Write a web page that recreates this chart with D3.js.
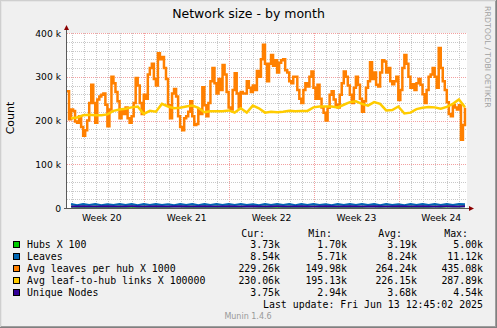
<!DOCTYPE html>
<html>
<head>
<meta charset="utf-8">
<script src="https://cdn.jsdelivr.net/npm/d3@7"></script>
<style>
  html, body { margin: 0; padding: 0; background: #f0f0f0; }
  svg { display: block; }
</style>
</head>
<body>
<svg id="chart" width="497" height="328"></svg>
<script>
// ---- data (values in thousands) ----
const titleText = "Network size - by month";
const yTickValues = [0, 100, 200, 300, 400];
const yTickLabels = ["0", "100 k", "200 k", "300 k", "400 k"];

const seriesNames = ["Hubs X 100", "Leaves", "Avg leaves per hub X 1000",
                     "Avg leaf-to-hub links X 100000", "Unique Nodes"];
const seriesColors = ["#00cc00", "#0066b3", "#ff8000", "#ffcc00", "#330099"];
const curVals = ["3.73k", "8.54k", "229.26k", "230.06k", "3.75k"];
const minVals = ["1.70k", "5.71k", "149.98k", "195.13k", "2.94k"];
const avgVals = ["3.19k", "8.24k", "264.24k", "226.15k", "3.68k"];
const maxVals = ["5.00k", "11.12k", "435.08k", "287.89k", "4.54k"];
const lastUpdate = "Last update: Fri Jun 13 12:45:02 2025";
const versionText = "Munin 1.4.6";
const watermark = "RRDTOOL / TOBI OETIKER";

// 4-hour samples
const avgLeavesPerHub = [267,
  203,225,222,198,195,210,185,165,178,200,
  240,282,240,195,248,255,259,262,236,187,
  225,300,285,265,244,205,225,215,230,205,
  195,210,240,297,280,240,215,259,250,305,
  320,330,295,280,354,340,345,320,295,235,
  205,262,272,255,210,185,178,205,210,220,
  244,210,190,192,225,215,276,235,210,240,
  290,320,285,262,295,270,327,305,265,230,
  225,270,308,262,230,265,262,262,290,275,
  265,280,270,313,300,340,373,330,290,
  330,350,325,338,310,332,338,340,315,
  310,290,285,300,300,270,250,240,270,285,
  278,300,312,275,250,282,250,230,218,200,
  229,259,267,248,236,230,259,285,312,300,
  280,259,240,275,300,282,250,220,244,275,
  290,333,295,310,282,278,310,338,335,310,
  320,290,283,290,300,247,270,320,350,330,
  300,275,283,270,285,295,282,260,240,270,
  300,305,320,300,275,366,320,290,270,242,
  215,210,235,230,225,235,156,190,229];

// 12-hour samples
const avgLinks = [205,207,212,213,212,212,214,222,225,227,
  230,232,215,222,220,238,232,228,229,232,
  234,229,219,221,221,221,223,218,228,218,
  234,228,218,220,219,220,222,221,222,222,
  230,232,232,232,230,236,242,244,238,234,
  242,238,223,224,232,216,218,226,229,231,
  230,227,231,238,248,230];

const leaves = [9.0,6.6,8.9,6.8,9.1,6.5,8.8,6.9,9.2,6.7,8.9,6.6,9.0,6.8,9.3,6.9,8.8,6.6,9.1,6.7,
  8.9,6.5,9.0,6.8,9.2,6.9,8.9,6.7,9.1,6.8,8.8,6.6,9.0,6.9,9.3,6.7,8.9,6.6,9.0,6.8,
  9.2,6.9,8.8,6.6,9.0,6.7,9.1,6.9,8.9,6.7,9.0,6.6,9.2,6.8,8.8,6.5,9.0,6.7,9.3,6.9,
  8.9,6.7,9.1,6.8,9.0,8.54];
const hubs = [3.3,3.0,3.4,2.9,3.2,3.1,3.3,2.8,3.2,3.0,3.4,3.1,3.2,2.9,3.3,3.0,3.1,3.2,3.4,2.9,
  3.2,3.0,3.3,3.1,3.2,2.9,3.4,3.0,3.1,3.2,3.3,2.9,3.2,3.1,3.3,3.0,3.2,2.9,3.4,3.1,
  3.2,3.0,3.3,3.1,3.2,2.9,3.3,3.0,3.1,3.2,3.4,3.0,3.2,3.1,3.3,2.9,3.2,3.0,3.3,3.1,
  3.2,3.0,3.4,3.2,3.5,3.73];
const uniqueNodes = [3.7,3.6,3.8,3.6,3.7,3.5,3.8,3.6,3.7,3.7,3.8,3.6,3.7,3.5,3.8,3.6,3.7,3.6,3.8,3.6,
  3.7,3.5,3.8,3.7,3.7,3.6,3.8,3.6,3.7,3.5,3.8,3.6,3.7,3.6,3.8,3.7,3.7,3.5,3.8,3.6,
  3.7,3.6,3.8,3.6,3.7,3.5,3.8,3.7,3.7,3.6,3.8,3.6,3.7,3.5,3.8,3.6,3.7,3.6,3.8,3.6,
  3.7,3.6,3.8,3.7,3.7,3.75];

// ---- layout ----
const W = 497, H = 328;
const P = { left: 67, right: 467, top: 33, bottom: 208 };
const HOUR = 3600e3;
const tEnd = Date.UTC(2025, 5, 13, 15, 0);
const tStart = tEnd - 33 * 24 * HOUR;

const x = d3.scaleUtc().domain([tStart, tEnd]).range([P.left, P.right]);
const y = d3.scaleLinear().domain([0, 400]).range([P.bottom, P.top]);

const fine = avgLeavesPerHub.map((v, i) => ({ t: tStart + i * 4 * HOUR, v }));
const coarse = arr => arr.map((v, i) => ({ t: tStart + 8 * HOUR + i * 12 * HOUR, v }));

const svg = d3.select("#chart");
const sans = "'DejaVu Sans', sans-serif";
const mono = "'DejaVu Sans Mono', monospace";

// background and bevelled frame
svg.append("rect").attr("width", W).attr("height", H).attr("fill", "#f0f0f0");
svg.append("rect").attr("x", P.left).attr("y", P.top)
   .attr("width", P.right - P.left).attr("height", P.bottom - P.top).attr("fill", "#ffffff");
const frame = svg.append("g").attr("shape-rendering", "crispEdges");
frame.append("path").attr("d", `M0.5,${H} V0.5 H${W}`).attr("fill", "none").attr("stroke", "#cfcfcf").attr("stroke-width", 1);
frame.append("path").attr("d", `M1.5,${H - 1} V1.5 H${W - 1}`).attr("fill", "none").attr("stroke", "#e6e6e6").attr("stroke-width", 1);
frame.append("path").attr("d", `M0,${H - 0.5} H${W - 0.5} V0`).attr("fill", "none").attr("stroke", "#808080").attr("stroke-width", 1);
frame.append("path").attr("d", `M1,${H - 1.5} H${W - 1.5} V1`).attr("fill", "none").attr("stroke", "#9e9e9e").attr("stroke-width", 1);

// grid
const grid = svg.append("g").attr("shape-rendering", "crispEdges").attr("stroke-width", 1);
const minorColor = "#c8c8c8", majorColor = "#f3a0a0";
d3.range(20, 401, 20).filter(v => v % 100 !== 0).forEach(v => {
  const yy = Math.round(y(v)) + 0.5;
  grid.append("line").attr("x1", P.left).attr("x2", P.right).attr("y1", yy).attr("y2", yy)
      .attr("stroke", minorColor).attr("stroke-dasharray", "1,1");
});
d3.utcDay.range(tStart, tEnd).filter(d => d.getUTCDay() !== 0).forEach(d => {
  const xx = Math.round(x(d)) + 0.5;
  grid.append("line").attr("x1", xx).attr("x2", xx).attr("y1", P.top).attr("y2", P.bottom)
      .attr("stroke", minorColor).attr("stroke-dasharray", "1,1");
});
yTickValues.filter(v => v > 0).forEach(v => {
  const yy = Math.round(y(v)) + 0.5;
  grid.append("line").attr("x1", P.left).attr("x2", P.right).attr("y1", yy).attr("y2", yy)
      .attr("stroke", majorColor).attr("stroke-dasharray", "1,1");
});
const sundays = d3.utcSunday.range(tStart, tEnd);
sundays.forEach(d => {
  const xx = Math.round(x(d)) + 0.5;
  grid.append("line").attr("x1", xx).attr("x2", xx).attr("y1", P.top).attr("y2", P.bottom)
      .attr("stroke", majorColor).attr("stroke-dasharray", "1,1");
});

// series lines, in legend order
const lineStep = d3.line().x(d => x(d.t)).y(d => y(d.v)).curve(d3.curveStepAfter);
const lineLin = d3.line().x(d => x(d.t)).y(d => y(d.v));
const plotted = [
  { data: coarse(hubs), gen: lineLin, w: 2 },
  { data: coarse(leaves), gen: lineLin, w: 2 },
  { data: fine, gen: lineStep, w: 2.5 },
  { data: coarse(avgLinks), gen: lineLin, w: 2.5 },
  { data: coarse(uniqueNodes), gen: lineLin, w: 2 }
];
plotted.forEach((s, i) => {
  svg.append("path").attr("d", s.gen(s.data)).attr("fill", "none")
     .attr("stroke", seriesColors[i]).attr("stroke-width", s.w).attr("stroke-linejoin", "miter");
});

// axes with arrows
const axis = svg.append("g").attr("shape-rendering", "crispEdges");
axis.append("line").attr("x1", P.left - 0.5).attr("x2", P.left - 0.5)
    .attr("y1", P.bottom + 1).attr("y2", P.top - 4).attr("stroke", "#5a5a5a");
axis.append("line").attr("x1", P.left - 3).attr("x2", P.right + 4)
    .attr("y1", P.bottom + 0.5).attr("y2", P.bottom + 0.5).attr("stroke", "#5a5a5a");
svg.append("path").attr("d", `M${P.left - 3},${P.top - 3} L${P.left + 2},${P.top - 3} L${P.left - 0.5},${P.top - 8} Z`)
   .attr("fill", "#8b0000");
svg.append("path").attr("d", `M${P.right + 2},${P.bottom - 2} L${P.right + 2},${P.bottom + 3} L${P.right + 7},${P.bottom + 0.5} Z`)
   .attr("fill", "#8b0000");

// y tick labels
yTickValues.forEach((v, i) => {
  svg.append("text").attr("x", 61).attr("y", y(v) + 3.5).attr("text-anchor", "end")
     .attr("font-family", sans).attr("font-size", 9.2).attr("fill", "#000").text(yTickLabels[i]);
});

// week labels, centred on each week interval
const weekFmt = d3.utcFormat("%V");
[d3.utcSunday.floor(tStart), ...sundays].forEach(d => {
  const mid = +d + 3.5 * 24 * HOUR;
  if (mid < tStart || mid > tEnd) return;
  svg.append("text").attr("x", x(mid)).attr("y", 221).attr("text-anchor", "middle")
     .attr("font-family", sans).attr("font-size", 9.2).attr("fill", "#000")
     .text("Week " + weekFmt(new Date(mid)));
});

// title, vertical unit label, watermark
svg.append("text").attr("x", 248.5).attr("y", 18).attr("text-anchor", "middle")
   .attr("font-family", sans).attr("font-size", 12.5).attr("fill", "#000").text(titleText);
svg.append("text").attr("transform", "translate(14,118) rotate(-90)").attr("text-anchor", "middle")
   .attr("font-family", sans).attr("font-size", 11).attr("fill", "#000").text("Count");
svg.append("text").attr("transform", "translate(485,6) rotate(90)").attr("text-anchor", "start")
   .attr("font-family", sans).attr("font-size", 7.9).attr("fill", "#a0a0a0").text(watermark);

// legend
const colRight = [280, 347, 417, 483];
const headers = ["Cur:", "Min:", "Avg:", "Max:"];
headers.forEach((h, j) => {
  svg.append("text").attr("x", colRight[j] - 15).attr("y", 236.5).attr("text-anchor", "end")
     .attr("font-family", mono).attr("font-size", 9.9).attr("fill", "#000").text(h);
});
seriesNames.forEach((name, i) => {
  const base = 248.4 + i * 12;
  svg.append("rect").attr("x", 13.5).attr("y", Math.round(base - 7) + 0.5).attr("width", 6).attr("height", 6)
     .attr("fill", seriesColors[i]).attr("stroke", "#000").attr("stroke-width", 1)
     .attr("shape-rendering", "crispEdges");
  svg.append("text").attr("x", 27).attr("y", base).attr("font-family", mono)
     .attr("font-size", 9.9).attr("fill", "#000").text(name);
  [curVals[i], minVals[i], avgVals[i], maxVals[i]].forEach((v, j) => {
    svg.append("text").attr("x", colRight[j]).attr("y", base).attr("text-anchor", "end")
       .attr("font-family", mono).attr("font-size", 9.9).attr("fill", "#000").text(v);
  });
});
svg.append("text").attr("x", 483).attr("y", 308.3).attr("text-anchor", "end")
   .attr("font-family", mono).attr("font-size", 9.9).attr("fill", "#000").text(lastUpdate);
svg.append("text").attr("x", 248).attr("y", 319).attr("text-anchor", "middle")
   .attr("font-family", sans).attr("font-size", 8).attr("fill", "#999").text(versionText);
</script>
</body>
</html>
